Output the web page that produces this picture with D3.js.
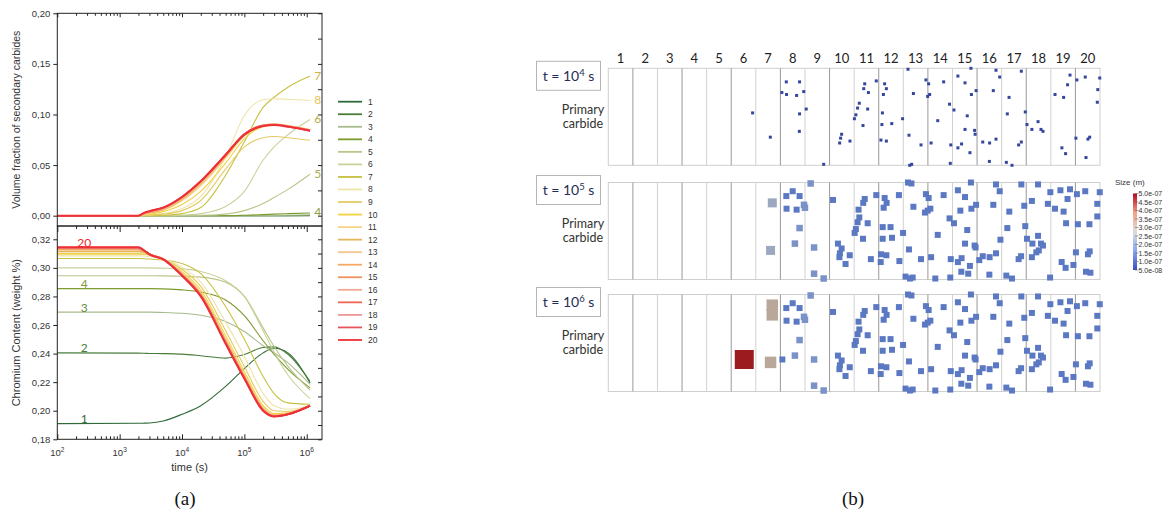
<!DOCTYPE html>
<html><head><meta charset="utf-8">
<script src="https://cdn.jsdelivr.net/npm/d3@7"></script>
<style>body{margin:0;background:#fff}svg{display:block}</style>
</head><body><svg id="c" width="1167" height="517"></svg>
<script>
// ---------------- DATA ----------------
const timeS = [100, 2000, 2500, 3000, 5000, 1e4, 2e4, 5e4, 1e5, 2e5, 3e5, 5e5, 1.13e6];
const seriesLabels = d3.range(1, 21).map(String);
const seriesColors = ["#2f6b3a","#4a7c3c","#a8bb8e","#7d9a2e","#b9c68a","#c9d19a","#c8c040","#eee4a8","#e3cb62","#f2d23e",
  "#f7d488","#e8b55a","#f3c48c","#f5a866","#ef9060","#f2aa98","#ef6552","#f09494","#e8545c","#ee3036"];
const volumeFraction = [
  [0,0,0,0,0,0,0,0,0,0,0,0,0],
  [0,0,0,0,0,0,0,0,0,0,0,0,0.0002],
  [0,0,0,0,0,0,0,0,0,0.0001,0.0002,0.0004,0.0008],
  [0,0,0,0,0,0,0,0,0.0004,0.001,0.0015,0.002,0.0027],
  [0,0,0,0,0,0,0.0003,0.0015,0.005,0.012,0.018,0.026,0.041],
  [0,0,0,0,0,0.0005,0.002,0.009,0.024,0.055,0.068,0.080,0.095],
  [0,0,0,0,0.0004,0.002,0.008,0.040,0.073,0.107,0.117,0.127,0.138],
  [0,0,0.0003,0.0008,0.002,0.007,0.019,0.058,0.099,0.1145,0.1155,0.115,0.1138],
  [0,0,0.0003,0.0006,0.0015,0.005,0.015,0.046,0.068,0.077,0.0782,0.077,0.0745],
  [0,0,0.0008,0.0015,0.004,0.011,0.024,0.052,0.076,0.088,0.0895,0.0885,0.085],
  [0,0,0.0012,0.0022,0.0055,0.015,0.030,0.057,0.079,0.0892,0.0903,0.0888,0.0849],
  [0,0,0.0016,0.0028,0.0062,0.0165,0.032,0.0585,0.0798,0.0893,0.0903,0.0887,0.0847],
  [0,0,0.0019,0.0032,0.0068,0.0172,0.0328,0.059,0.0802,0.0893,0.0902,0.0886,0.0846],
  [0,0,0.0022,0.0036,0.0072,0.0178,0.0335,0.0596,0.0805,0.0893,0.0901,0.0885,0.0845],
  [0,0,0.0024,0.0039,0.0075,0.0181,0.0338,0.0598,0.0805,0.0892,0.0900,0.0884,0.0844],
  [0,0,0.0026,0.0041,0.0077,0.0183,0.0340,0.0600,0.0806,0.0891,0.0899,0.0883,0.0843],
  [0,0,0.0027,0.0042,0.0078,0.0184,0.0341,0.0601,0.0806,0.0890,0.0898,0.0882,0.0842],
  [0,0,0.0028,0.0043,0.0079,0.0185,0.0342,0.0602,0.0806,0.0889,0.0897,0.0881,0.0841],
  [0,0,0.0029,0.0044,0.0080,0.0186,0.0343,0.0603,0.0806,0.0888,0.0896,0.0880,0.0840],
  [0,0,0.003,0.0045,0.008,0.0185,0.034,0.060,0.080,0.0885,0.0895,0.088,0.084]
];
const chromium = [
  [0.191,0.1912,0.1913,0.1914,0.1928,0.1975,0.2035,0.2170,0.2295,0.2405,0.2437,0.2405,0.2195],
  [0.2405,0.2403,0.2402,0.2401,0.2400,0.2396,0.2385,0.2368,0.2393,0.2443,0.2447,0.2395,0.2205],
  [0.269,0.269,0.269,0.269,0.2688,0.2682,0.2668,0.2625,0.2555,0.2455,0.2405,0.2335,0.2185],
  [0.2855,0.2855,0.2855,0.2855,0.2853,0.2846,0.2830,0.2775,0.2665,0.2490,0.2395,0.2290,0.216],
  [0.2945,0.2945,0.2945,0.2945,0.2944,0.2941,0.2935,0.2900,0.2800,0.2580,0.2450,0.2310,0.2145],
  [0.300,0.300,0.300,0.300,0.2998,0.2993,0.2975,0.2910,0.2800,0.2560,0.2410,0.2250,0.2085],
  [0.3065,0.3065,0.3064,0.3062,0.3055,0.303,0.296,0.273,0.250,0.224,0.212,0.2055,0.2045],
  [0.3084,0.3084,0.3083,0.308,0.306,0.3005,0.290,0.262,0.238,0.212,0.2035,0.201,0.2035],
  [0.3098,0.3098,0.3096,0.309,0.306,0.299,0.287,0.256,0.231,0.2065,0.200,0.1995,0.2035],
  [0.3098,0.3098,0.3095,0.309,0.306,0.2975,0.2845,0.2525,0.2275,0.2035,0.198,0.1985,0.2035],
  [0.3114,0.3114,0.311,0.3095,0.3062,0.2962,0.2825,0.2500,0.2250,0.2020,0.1970,0.1980,0.2036],
  [0.3114,0.3114,0.311,0.3095,0.3062,0.2958,0.2820,0.2495,0.2245,0.2015,0.1968,0.1979,0.2036],
  [0.3128,0.3128,0.3115,0.3096,0.3062,0.2955,0.2816,0.2490,0.2240,0.2012,0.1966,0.1978,0.2035],
  [0.3128,0.3128,0.3115,0.3096,0.3061,0.2953,0.2813,0.2486,0.2236,0.2009,0.1964,0.1977,0.2035],
  [0.3135,0.3135,0.3117,0.3096,0.3061,0.2951,0.2810,0.2482,0.2233,0.2006,0.1963,0.1976,0.2035],
  [0.314,0.314,0.3118,0.3096,0.3061,0.2950,0.2808,0.2479,0.2231,0.2004,0.1962,0.1976,0.2035],
  [0.314,0.314,0.3119,0.3096,0.3061,0.2949,0.2806,0.2476,0.2229,0.2003,0.1961,0.1975,0.2035],
  [0.314,0.314,0.3119,0.3095,0.3060,0.2948,0.2804,0.2474,0.2228,0.2002,0.1961,0.1975,0.2035],
  [0.3142,0.3142,0.312,0.3095,0.3060,0.2947,0.2802,0.2472,0.2226,0.2001,0.1960,0.1975,0.2035],
  [0.3145,0.3145,0.312,0.3095,0.3060,0.2945,0.2800,0.2470,0.2225,0.2000,0.1960,0.1975,0.2035]
];
const volTicks = [0, 0.05, 0.10, 0.15, 0.20];
const crTicks = [0.18, 0.20, 0.22, 0.24, 0.26, 0.28, 0.30, 0.32];
const timeTickExp = [2, 3, 4, 5, 6];
const topAnnot = [7, 8, 6, 5, 4];
const topAnnotColors = ["#c9b545", "#e3c455", "#b0b04a", "#a8ad55", "#8fa040"];
const botAnnot = [20, 4, 3, 2, 1];
const botAnnotColors = ["#e82828", "#7d9a3e", "#6a8a48", "#4a7c3c", "#2f6b3a"];

const columns = d3.range(1, 21);
const snapshotExp = [4, 5, 6];
// particles: [column position, depth fraction, (size m)]
const particles1e4 = [
 [5.87,0.46],[6.59,0.71],[7.24,0.14],[7.78,0.14],[7.06,0.25],[7.25,0.27],[7.66,0.28],[7.95,0.24],[8.05,0.42],[7.78,0.47],
 [7.77,0.65],[8.76,0.99],[9.41,0.77],[9.45,0.72],[9.49,0.68],[9.83,0.75],[10.01,0.52],[10.07,0.48],[10.14,0.41],[10.21,0.36],
 [10.36,0.59],[10.43,0.16],[10.39,0.21],[10.58,0.25],[10.55,0.42],[10.90,0.13],[11.15,0.46],[11.24,0.16],[11.31,0.21],[11.19,0.27],
 [11.13,0.58],[11.09,0.74],[11.31,0.75],[11.53,0.57],[12.19,0.01],[12.41,0.26],[11.97,0.52],[12.23,0.69],[12.26,1.0],[12.34,0.99],
 [12.72,0.79],[12.92,0.12],[13.03,0.16],[13.07,0.27],[12.99,0.29],[13.13,0.77],[13.40,0.54],[13.64,0.14],[13.88,0.37],[14.06,0.43],
 [13.93,0.79],[13.91,0.98],[14.22,0.08],[14.51,0.15],[14.75,0.0],[14.77,0.27],[14.96,0.23],[14.60,0.49],[14.51,0.63],[14.90,0.64],
 [14.92,0.68],[14.22,0.82],[14.37,0.78],[14.71,0.87],[15.23,0.76],[15.51,0.77],[15.77,0.73],[15.50,0.96],[15.66,0.23],[15.77,0.02],
 [15.92,0.09],[16.30,0.30],[16.23,0.47],[16.19,0.97],[16.42,1.0],[16.80,0.03],[16.96,0.45],[17.03,0.58],[17.23,0.63],[16.80,0.76],
 [16.69,0.79],[17.48,0.55],[17.60,0.63],[17.68,0.65],[18.17,0.27],[18.52,0.30],[18.68,0.17],[18.78,0.07],[18.45,0.82],[18.60,0.88],
 [19.02,0.72],[19.06,0.12],[19.40,0.09],[19.99,0.10],[19.91,0.22],[19.89,0.35],[19.51,0.73],[19.58,0.71],[19.43,0.92]
];
const particlesLate = [
 [8.23,0.01,1.3e-7],[7.50,0.09],[7.24,0.14],[7.78,0.14],[7.96,0.23,1.3e-7],[8.00,0.26,1.3e-7],[7.66,0.28],[7.25,0.27],[7.78,0.47,1.3e-7],[7.59,0.63,1.3e-7],
 [8.37,0.67,1.3e-7],[8.37,0.94,1.3e-7],[8.76,0.99,1.3e-7],[9.14,0.18],[9.34,0.63],[9.49,0.68],[9.42,0.73],[9.40,0.77],[9.82,0.75],[9.65,0.84],
 [10.43,0.17],[10.37,0.21],[10.18,0.28],[10.21,0.36],[10.14,0.41],[10.07,0.48],[10.02,0.52],[10.55,0.42],[10.36,0.58],[10.90,0.13],
 [11.24,0.16],[11.32,0.21],[11.20,0.26],[11.16,0.46],[11.48,0.46],[11.16,0.58],[11.54,0.57],[11.09,0.74],[11.31,0.75],[11.08,0.82],
 [10.68,0.79],[11.82,0.13],[11.99,0.52],[12.23,0.69],[11.84,0.81],[12.19,0.0],[12.33,0.01],[12.41,0.25],[12.09,0.97],[12.27,0.99],
 [12.38,0.98],[12.72,0.79],[12.92,0.12],[13.03,0.16],[13.10,0.27],[12.99,0.29],[12.88,0.31],[13.13,0.77],[13.30,0.99],[13.40,0.54],
 [13.64,0.13],[13.88,0.37],[14.06,0.42],[13.93,0.79],[13.91,0.98],[14.22,0.08],[14.51,0.15],[14.75,0.0],[14.96,0.23],[14.77,0.27],
 [14.32,0.29],[14.60,0.49],[14.51,0.63],[14.90,0.65],[14.94,0.67],[14.22,0.82],[14.37,0.78],[14.71,0.86],[14.36,0.92],[14.64,0.94],
 [15.09,0.80],[15.23,0.76],[15.51,0.77],[15.77,0.73],[15.50,0.95],[15.66,0.23],[15.77,0.02],[15.92,0.09],[16.31,0.30],[16.23,0.47],
 [15.95,0.59],[16.19,0.96],[16.42,0.99],[16.80,0.02],[16.92,0.24],[16.96,0.45],[17.03,0.58],[17.23,0.19],[17.25,0.63],[17.48,0.55],
 [17.60,0.63],[17.68,0.65],[17.51,0.70],[17.41,0.72],[17.23,0.77],[16.69,0.79],[16.79,0.76],[17.48,0.02],[17.88,0.22],[17.97,0.98],
 [17.98,0.10],[18.17,0.27],[18.39,0.08],[18.52,0.30],[18.68,0.17],[18.78,0.07],[18.62,0.42],[18.44,0.82],[18.60,0.88],[18.92,0.85],
 [19.02,0.72],[19.06,0.12],[19.40,0.09],[19.10,0.43],[19.57,0.43],[19.51,0.74],[19.58,0.71],[19.43,0.92],[19.61,0.93],[19.99,0.10],
 [19.89,0.22],[19.89,0.35]
];
const large1e5 = [[6.67,0.21,2.2e-7],[6.60,0.70,2.2e-7]];
const large1e6 = [[6.67,0.11,3.2e-7],[6.67,0.21,3.2e-7],[6.60,0.70,3.2e-7],[5.53,0.67,5.0e-7],[7.08,0.67,1.0e-7]];
const sizeBarTicks = [5.0e-7,4.5e-7,4.0e-7,3.5e-7,3.0e-7,2.5e-7,2.0e-7,1.5e-7,1.0e-7,5.0e-8];

// ---------------- DRAW ----------------
const svg = d3.select("#c");
const SANS = "'Liberation Sans', Arial, sans-serif";
const comma = d => d3.format(".2f")(d).replace(".", ",");

const xL = d3.scaleLog().domain([100, 1.758e6]).range([57.3, 322]);
const yV = d3.scaleLinear().domain([-0.0102, 0.2]).range([226, 13.3]);
const yC = d3.scaleLinear().domain([0.18, 0.3293]).range([439.3, 226]);

const defs = svg.append("defs");
defs.append("clipPath").attr("id","clipTop").append("rect")
  .attr("x",xL.range()[0]).attr("y",yV.range()[1]).attr("width",xL.range()[1]-xL.range()[0]).attr("height",yV.range()[0]-yV.range()[1]);
defs.append("clipPath").attr("id","clipBot").append("rect")
  .attr("x",xL.range()[0]).attr("y",yC.range()[1]).attr("width",xL.range()[1]-xL.range()[0]).attr("height",yC.range()[0]-yC.range()[1]);

const widthFor = i => i === 19 ? 2 : (i >= 10 ? 1.6 : 1.1);
const lineV = d3.line().x((d,i)=>xL(timeS[i])).y(d=>yV(d)).curve(d3.curveMonotoneX);
const lineC = d3.line().x((d,i)=>xL(timeS[i])).y(d=>yC(d)).curve(d3.curveMonotoneX);

svg.append("g").attr("clip-path","url(#clipTop)").selectAll("path").data(volumeFraction).join("path")
  .attr("d", lineV).attr("fill","none").attr("stroke",(d,i)=>seriesColors[i]).attr("stroke-width",(d,i)=>widthFor(i));
svg.append("g").attr("clip-path","url(#clipBot)").selectAll("path").data(chromium).join("path")
  .attr("d", lineC).attr("fill","none").attr("stroke",(d,i)=>seriesColors[i]).attr("stroke-width",(d,i)=>widthFor(i));

// frames
[[yV],[yC]].forEach(([ys])=>{
  svg.append("rect").attr("x",xL.range()[0]).attr("y",ys.range()[1]).attr("width",xL.range()[1]-xL.range()[0])
    .attr("height",ys.range()[0]-ys.range()[1]).attr("fill","none").attr("stroke","#222").attr("stroke-width",1);
});

const minorT = [];
[2,3,4,5].forEach(e=>{ for(let k=2;k<=9;k++) minorT.push(k*Math.pow(10,e)); });
const majorT = timeTickExp.map(e=>Math.pow(10,e));
function styleAxis(g){ g.select(".domain").remove(); g.selectAll("line").attr("stroke","#222"); g.selectAll("text").attr("fill","#333").style("font-family",SANS).style("font-size","9.5px"); }

// top plot axes
svg.append("g").attr("transform",`translate(${xL.range()[0]},0)`).call(d3.axisLeft(yV).tickValues(volTicks).tickSize(4).tickPadding(3).tickFormat(comma)).call(styleAxis);
svg.append("g").attr("transform",`translate(${xL.range()[1]},0)`).call(d3.axisLeft(yV).tickValues(d3.range(0,0.2001,0.025)).tickSize(4).tickFormat("")).call(styleAxis);
svg.append("g").attr("transform",`translate(0,${yV.range()[1]})`).call(d3.axisBottom(xL).tickValues(majorT).tickSize(4).tickFormat("")).call(styleAxis);
svg.append("g").attr("transform",`translate(0,${yV.range()[1]})`).call(d3.axisBottom(xL).tickValues(minorT).tickSize(2.5).tickFormat("")).call(styleAxis);
svg.append("g").attr("transform",`translate(0,${yV.range()[0]})`).call(d3.axisBottom(xL).tickValues(majorT).tickSize(6).tickFormat("")).call(styleAxis);
svg.append("g").attr("transform",`translate(0,${yV.range()[0]})`).call(d3.axisBottom(xL).tickValues(minorT).tickSize(3).tickFormat("")).call(styleAxis);

// bottom plot axes
svg.append("g").attr("transform",`translate(${xL.range()[0]},0)`).call(d3.axisLeft(yC).tickValues(crTicks).tickSize(4).tickPadding(3).tickFormat(comma)).call(styleAxis);
svg.append("g").attr("transform",`translate(${xL.range()[1]},0)`).call(d3.axisLeft(yC).tickValues(d3.range(0.18,0.3291,0.01)).tickSize(4).tickFormat("")).call(styleAxis);
svg.append("g").attr("transform",`translate(0,${yC.range()[0]})`).call(d3.axisTop(xL).tickValues(majorT).tickSize(5).tickFormat("")).call(styleAxis);
svg.append("g").attr("transform",`translate(0,${yC.range()[0]})`).call(d3.axisTop(xL).tickValues(minorT).tickSize(3).tickFormat("")).call(styleAxis);

// x tick labels 10^n
const xl = svg.append("g").selectAll("text").data(timeTickExp).join("text")
  .attr("x", e=>xL(Math.pow(10,e))).attr("y", yC.range()[0]+17).attr("text-anchor","middle")
  .attr("fill","#333").style("font-family",SANS).style("font-size","9.5px");
xl.append("tspan").text("10");
xl.append("tspan").attr("dy",-4).style("font-size","6.5px").text(e=>e);

svg.append("text").attr("x",(xL.range()[0]+xL.range()[1])/2).attr("y",yC.range()[0]+32).attr("text-anchor","middle")
  .attr("fill","#333").style("font-family",SANS).style("font-size","11px").text("time (s)");
svg.append("text").attr("transform",`translate(20,${(yV.range()[0]+yV.range()[1])/2}) rotate(-90)`).attr("text-anchor","middle")
  .attr("fill","#333").style("font-family",SANS).style("font-size","10.5px").text("Volume fraction of secondary carbides");
svg.append("text").attr("transform",`translate(20,${(yC.range()[0]+yC.range()[1])/2}) rotate(-90)`).attr("text-anchor","middle")
  .attr("fill","#333").style("font-family",SANS).style("font-size","11px").text("Chromium Content (weight %)");

// annotations
svg.append("g").selectAll("text").data(topAnnot).join("text")
  .attr("x", xL(1.5e6)).attr("y", s=>yV(volumeFraction[s-1][timeS.length-1])-1).attr("dominant-baseline","central").attr("text-anchor","middle")
  .attr("fill",(s,i)=>topAnnotColors[i]).style("font-family","Lato, sans-serif").style("font-size","12px").text(s=>s);
svg.append("g").selectAll("text").data(botAnnot).join("text")
  .attr("x", xL(270)).attr("y", s=>yC(chromium[s-1][0])-5).attr("dominant-baseline","central").attr("text-anchor","middle")
  .attr("fill",(s,i)=>botAnnotColors[i]).style("font-family","Lato, sans-serif").style("font-size","12px").text(s=>s);

// legend
const leg = svg.append("g").selectAll("g").data(seriesLabels).join("g")
  .attr("transform",(d,i)=>`translate(338,${101.7 + i*12.54})`);
leg.append("line").attr("x1",0).attr("x2",24).attr("stroke",(d,i)=>seriesColors[i]).attr("stroke-width",1.8);
leg.append("text").attr("x",30).attr("dy","0.35em").attr("fill","#333").style("font-family",SANS).style("font-size","8.5px").text(d=>d);

// ---------------- RIGHT PANEL ----------------
const colX = d3.scaleLinear().domain([0, 20]).range([608.3, 1100]);
const panelTop = [68.3, 182.5, 294.5], panelH = 97;
const sizePx = d3.scaleLinear().domain([5e-8,1e-7,1.3e-7,2.2e-7,3.2e-7,5e-7]).range([3,6,6.5,9,11.5,19]);
const sizeCol = d3.scaleLinear().domain([5e-8,1e-7,1.3e-7,2.2e-7,3.2e-7,5e-7])
  .range(["#34479c","#5b78c2","#7b92c8","#9ba8bf","#b9a899","#9b1b1f"]);

svg.append("g").selectAll("text").data(columns).join("text")
  .attr("x", c=>colX(c-0.5)).attr("y", 57.7).attr("dominant-baseline","central").attr("text-anchor","middle")
  .attr("fill","#222").style("font-family","Lato, sans-serif").style("font-size","13px").text(c=>c);

const panelParticles = [
  particles1e4.map(p=>[p[0],p[1],5e-8]),
  particlesLate.map(p=>[p[0],p[1],p[2]||1e-7]).concat(large1e5),
  particlesLate.map(p=>[p[0],p[1],p[2]||1e-7]).concat(large1e6)
];

snapshotExp.forEach((e, pi) => {
  const top = panelTop[pi];
  const yP = d3.scaleLinear().domain([0,1]).range([top, top+panelH]);
  const g = svg.append("g");
  g.append("rect").attr("x",colX(0)).attr("y",yP(0)).attr("width",colX(20)-colX(0)).attr("height",panelH)
    .attr("fill","#fff").attr("stroke","#cfcfcf").attr("stroke-width",1);
  g.selectAll("line.v").data(d3.range(1,20)).join("line").attr("class","v")
    .attr("x1",c=>colX(c)).attr("x2",c=>colX(c)).attr("y1",yP(0)).attr("y2",yP(1))
    .attr("stroke",c=>c%2 ? "#9a9a9a" : "#d2d2d2").attr("stroke-width",1);
  const parts = panelParticles[pi].slice().sort((a,b)=>a[2]-b[2]);
  g.selectAll("rect.p").data(parts).join("rect").attr("class","p")
    .attr("x",p=>colX(p[0])-sizePx(p[2])/2).attr("y",p=>yP(p[1])-sizePx(p[2])/2)
    .attr("width",p=>sizePx(p[2])).attr("height",p=>sizePx(p[2]))
    .attr("fill",p=>sizeCol(p[2]));
  const lb = g.append("g");
  lb.append("rect").attr("x",536.5).attr("y",top-7).attr("width",64).attr("height",29)
    .attr("fill","#fff").attr("stroke","#b5b5b5").attr("stroke-width",1);
  const t = lb.append("text").attr("x",568.5).attr("y",top+12.5).attr("text-anchor","middle")
    .attr("fill","#1f2d55").style("font-family","Lato, sans-serif").style("font-size","14px");
  t.append("tspan").text("t = 10");
  t.append("tspan").attr("dy",-5).style("font-size","9.5px").text(e);
  t.append("tspan").attr("dy",5).text(" s");
  const pc = g.append("text").attr("x",583).attr("text-anchor","middle").attr("fill","#333")
    .style("font-family","Lato, sans-serif").style("font-size","12.5px");
  pc.append("tspan").attr("x",583).attr("y",yP(0.5)-3).text("Primary");
  pc.append("tspan").attr("x",583).attr("y",yP(0.5)+11).text("carbide");
});

// colour bar
const cb = svg.append("g");
const grad = defs.append("linearGradient").attr("id","cbg").attr("x1",0).attr("y1",1).attr("x2",0).attr("y2",0);
[["0%","#3b4cc0"],["25%","#88a8f0"],["50%","#dddddd"],["75%","#f2a283"],["100%","#b40426"]].forEach(([o,c])=>grad.append("stop").attr("offset",o).attr("stop-color",c));
const cbY = d3.scaleLinear().domain([5e-8, 5e-7]).range([270, 193.5]);
cb.append("rect").attr("x",1133).attr("y",cbY(5e-7)).attr("width",4).attr("height",cbY(5e-8)-cbY(5e-7)).attr("fill","url(#cbg)");
cb.selectAll("line").data(sizeBarTicks).join("line").attr("x1",1135).attr("x2",1138.5).attr("y1",d=>cbY(d)).attr("y2",d=>cbY(d)).attr("stroke","#666").attr("stroke-width",0.6);
cb.selectAll("text").data(sizeBarTicks).join("text").attr("x",1138.5).attr("y",d=>cbY(d)).attr("dominant-baseline","central")
  .attr("fill","#333").style("font-family",SANS).style("font-size","7px").text(d=>d3.format(".1e")(d).replace(/e([+-])(\d)$/,"e$10$2"));
cb.append("text").attr("x",1115).attr("y",185).attr("fill","#333").style("font-family",SANS).style("font-size","8px").text("Size (m)");

// captions
svg.append("text").attr("x",185).attr("y",505).attr("text-anchor","middle").attr("fill","#111")
  .style("font-family","'Liberation Serif', 'DejaVu Serif', serif").style("font-size","19px").text("(a)");
svg.append("text").attr("x",853).attr("y",505).attr("text-anchor","middle").attr("fill","#111")
  .style("font-family","'Liberation Serif', 'DejaVu Serif', serif").style("font-size","19px").text("(b)");
</script></body></html>
